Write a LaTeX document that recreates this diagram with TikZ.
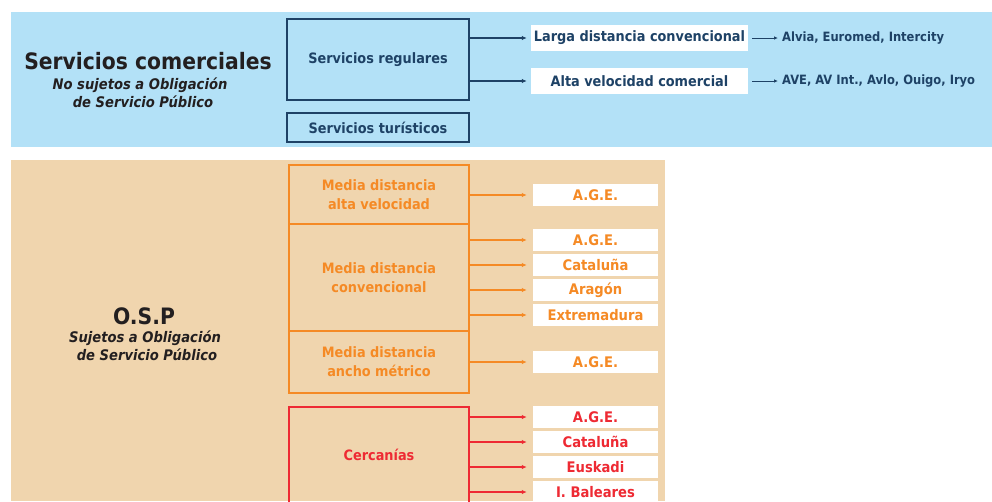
\documentclass[tikz,border=0pt]{standalone}
\usepackage{fontspec}
\setmainfont{DejaVu Sans Condensed}
\usetikzlibrary{arrows.meta}
\definecolor{bluebg}{HTML}{B3E1F7}
\definecolor{navy}{HTML}{1E4266}
\definecolor{orangebg}{HTML}{F0D5AE}
\definecolor{orng}{HTML}{F58A25}
\definecolor{redc}{HTML}{EE2A33}
\definecolor{titlec}{HTML}{231F20}
\tikzset{
  boxtxt/.style={font=\bfseries\fontsize{14.3}{17}\selectfont, align=center, inner sep=0pt},
  labtxt/.style={font=\bfseries\fontsize{14.6}{17}\selectfont, align=center, inner sep=0pt},
  navybox/.style={boxtxt, draw=navy, line width=1.6pt, text=navy, minimum width=182pt},
  navywhite/.style={boxtxt, fill=white, text=navy, minimum width=217pt, minimum height=26pt},
  navyarrow/.style={draw=navy, line width=1.5pt, -{Latex[length=5pt,width=4.5pt]}},
  smallarrow/.style={draw=navy, line width=1pt, -{Latex[length=4pt,width=3.5pt]}},
  smalltxt/.style={font=\bfseries\fontsize{12.8}{15}\selectfont, text=navy, inner sep=0pt, anchor=west},
  obox/.style={boxtxt, draw=orng, line width=1.6pt, text=orng, minimum width=180pt},
  owhite/.style={labtxt, fill=white, text=orng, minimum width=125pt, minimum height=22pt},
  oarrow/.style={draw=orng, line width=1.5pt, -{Latex[length=5pt,width=4.5pt]}, shorten >=6pt},
  rbox/.style={boxtxt, draw=redc, line width=1.6pt, text=redc, minimum width=180pt},
  rwhite/.style={labtxt, fill=white, text=redc, minimum width=125pt, minimum height=22pt},
  rarrow/.style={draw=redc, line width=1.5pt, -{Latex[length=5pt,width=4.5pt]}, shorten >=6pt},
  bigtitle/.style={font=\bfseries\fontsize{22.6}{26}\selectfont, text=titlec, inner sep=0pt},
  subtitle/.style={font=\bfseries\itshape\fontsize{14.6}{17}\selectfont, text=titlec, inner sep=0pt, align=center},
}
\begin{document}
\begin{tikzpicture}[x=1pt,y=-1pt]
\useasboundingbox (0,0) rectangle (992,501);
\fill[bluebg] (11,12) rectangle (992,147);
\fill[orangebg] (11,160) rectangle (665,501);

% commercial services
\node[bigtitle] (sc) at (148,61) {Servicios comerciales};
\node[subtitle] (scsub1) at (140,85) {No sujetos a Obligación};
\node[subtitle] (scsub2) at (143,102) {de Servicio Público};

\node[navybox, minimum height=81pt] (reg) at (378,59.5) {Servicios regulares};
\node[navybox, minimum height=29pt] (tur) at (378,127.5) {Servicios turísticos};

\node[navywhite] (larga) at (639.5,38) {Larga distancia convencional};
\node[navywhite] (alta) at (639.5,81) {Alta velocidad comercial};

\draw[navyarrow, shorten >=4pt] (reg.east |- larga.west) -- (larga.west);
\draw[navyarrow, shorten >=4pt] (reg.east |- alta.west) -- (alta.west);

\node[smalltxt] (alvia) at (782,38) {Alvia, Euromed, Intercity};
\node[smalltxt] (ave) at (782,81) {AVE, AV Int., Avlo, Ouigo, Iryo};
\draw[smallarrow, shorten <=4pt, shorten >=4pt] (larga.east) -- (alvia.west);
\draw[smallarrow, shorten <=4pt, shorten >=4pt] (alta.east) -- (ave.west);

% OSP
\node[bigtitle] (osp) at (144,316) {O.S.P};
\node[subtitle] (ospsub1) at (145,338) {Sujetos a Obligación};
\node[subtitle] (ospsub2) at (147,355) {de Servicio Público};

\node[obox, minimum height=59pt] (mdav) at (379,194.5) {Media distancia\\[2pt]alta velocidad};
\node[obox, minimum height=107pt] (mdc) at (379,277.5) {Media distancia\\[2pt]convencional};
\node[obox, minimum height=62pt] (mdam) at (379,362) {Media distancia\\[2pt]ancho métrico};
\node[rbox, minimum height=96pt] (cer) at (379,455) {Cercanías};

\node[owhite] (mdavage) at (595.5,195) {A.G.E.};
\node[owhite] (mdcage) at (595.5,240) {A.G.E.};
\node[owhite] (mdccat) at (595.5,265) {Cataluña};
\node[owhite] (mdcara) at (595.5,290) {Aragón};
\node[owhite] (mdcext) at (595.5,315) {Extremadura};
\node[owhite] (mdamage) at (595.5,362) {A.G.E.};

\node[rwhite] (cerage) at (595.5,417) {A.G.E.};
\node[rwhite] (cercat) at (595.5,442) {Cataluña};
\node[rwhite] (ceresk) at (595.5,467) {Euskadi};
\node[rwhite] (cerbal) at (595.5,492) {I. Baleares};

\draw[oarrow] (mdav.east |- mdavage.west) -- (mdavage.west);
\draw[oarrow] (mdc.east |- mdcage.west) -- (mdcage.west);
\draw[oarrow] (mdc.east |- mdccat.west) -- (mdccat.west);
\draw[oarrow] (mdc.east |- mdcara.west) -- (mdcara.west);
\draw[oarrow] (mdc.east |- mdcext.west) -- (mdcext.west);
\draw[oarrow] (mdam.east |- mdamage.west) -- (mdamage.west);

\draw[rarrow] (cer.east |- cerage.west) -- (cerage.west);
\draw[rarrow] (cer.east |- cercat.west) -- (cercat.west);
\draw[rarrow] (cer.east |- ceresk.west) -- (ceresk.west);
\draw[rarrow] (cer.east |- cerbal.west) -- (cerbal.west);
\end{tikzpicture}
\end{document}
